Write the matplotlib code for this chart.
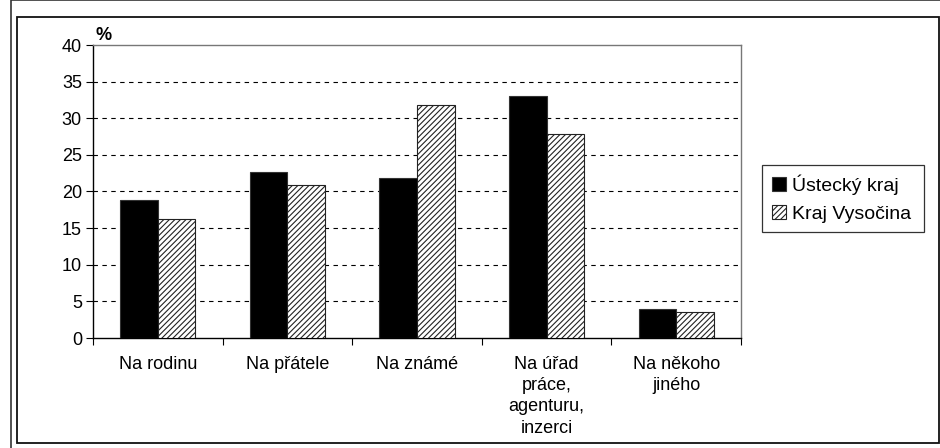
import matplotlib
matplotlib.use("Agg")
import matplotlib.pyplot as plt
from matplotlib.patches import Rectangle
import numpy as np

plt.rcParams['font.family'] = ['Liberation Sans', 'DejaVu Sans']
plt.rcParams['hatch.linewidth'] = 0.8

categories = ["Na rodinu", "Na přátele", "Na známé", "Na úřad\npráce,\nagenturu,\ninzerci", "Na někoho\njiného"]
series_names = ["Ústecký kraj", "Kraj Vysočina"]
ustecky = [18.9, 22.6, 21.9, 33.0, 4.0]
vysocina = [16.2, 20.9, 31.8, 27.8, 3.6]
yticks = [0, 5, 10, 15, 20, 25, 30, 35, 40]

fig = plt.figure(figsize=(9.4, 4.48), dpi=100)
# outer frames
fig.patches.append(Rectangle((11/940, 1 - 460/448), 940/940, 460/448, transform=fig.transFigure,
                             fill=False, edgecolor='#333333', linewidth=1.2))
fig.patches.append(Rectangle((17/940, 1 - 443/448), (939-17)/940, (443-17)/448, transform=fig.transFigure,
                             fill=False, edgecolor='#111111', linewidth=1.3))

ax = fig.add_axes([93/940, 1 - 338/448, (741-93)/940, (338-45)/448])
x = np.arange(len(categories))
w = 0.29
ax.bar(x - w/2, ustecky, w, color='black', edgecolor='#333333', linewidth=0.8, label=series_names[0], zorder=3)
ax.bar(x + w/2, vysocina, w, color='white', edgecolor='#222222', hatch='//////', linewidth=0.8,
       label=series_names[1], zorder=3)

ax.set_xlim(-0.5, len(categories) - 0.5)
ax.set_ylim(0, 40)
ax.set_yticks(yticks)
ax.set_yticklabels([str(v) for v in yticks], fontsize=13)
for v in yticks[1:-1]:
    ax.axhline(v, color='black', linestyle=(0, (4, 4)), linewidth=0.8, zorder=1)

ax.set_xticks(np.arange(len(categories) + 1) - 0.5, minor=True)
ax.set_xticks(x)
ax.set_xticklabels(categories, fontsize=13, linespacing=1.32, va='top')
ax.tick_params(axis='x', which='major', length=0, pad=13)
ax.tick_params(axis='x', which='minor', length=5, width=0.8)
ax.tick_params(axis='y', length=5, width=0.8, pad=3)

for s in ['left', 'bottom']:
    ax.spines[s].set_color('black')
    ax.spines[s].set_linewidth(1.0)
for s in ['top', 'right']:
    ax.spines[s].set_color('#777777')
    ax.spines[s].set_linewidth(1.0)

fig.text(96/940, 1 - 35/448, "%", fontsize=13, fontweight='bold', va='center', ha='left')

leg = ax.legend(loc='center left', bbox_to_anchor=(762/940, 1 - 233/448, (924-762)/940, (233-164)/448),
                bbox_transform=fig.transFigure, mode='expand', fontsize=14, frameon=True, fancybox=False,
                handlelength=0.75, handleheight=0.75, handletextpad=0.3, borderpad=0.5, labelspacing=0.5,
                borderaxespad=0)
leg.get_frame().set_edgecolor('black')
leg.get_frame().set_linewidth(0.9)

fig.savefig("out.png", dpi=100)
